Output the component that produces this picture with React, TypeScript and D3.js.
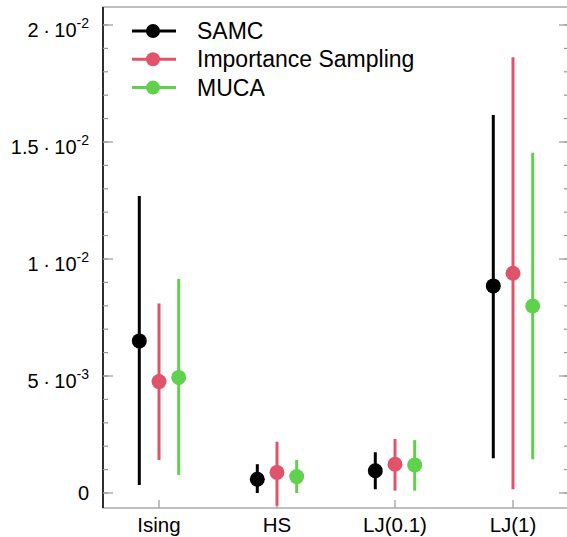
import React from "react";
import * as d3 from "d3";

const categories = ["Ising", "HS", "LJ(0.1)", "LJ(1)"];
const seriesNames = ["SAMC", "Importance Sampling", "MUCA"];
const seriesColors = ["#000000", "#DF536B", "#61D04F"];

// value, lower, upper per category
const samcMean = [0.0065, 0.00059, 0.00095, 0.00885];
const samcLow = [0.00034, 0.0, 0.00016, 0.00148];
const samcHigh = [0.01269, 0.00123, 0.00174, 0.01615];

const isMean = [0.00476, 0.00088, 0.00123, 0.00939];
const isLow = [0.00141, -0.00055, 0.0001, 0.00016];
const isHigh = [0.0081, 0.00219, 0.00231, 0.01862];

const mucaMean = [0.00494, 0.0007, 0.0012, 0.00799];
const mucaLow = [0.00077, 0.0, 0.0001, 0.00144];
const mucaHigh = [0.00915, 0.00141, 0.00226, 0.01454];

const yMajorTicks = [0, 0.005, 0.01, 0.015, 0.02];
const yTickMantissa = ["0", "5", "1", "1.5", "2"];
const yTickExponent = ["", "-3", "-2", "-2", "-2"];
const yMinorTicks = d3.range(0, 0.0205, 0.001);

const series = [
  { mean: samcMean, low: samcLow, high: samcHigh },
  { mean: isMean, low: isLow, high: isHigh },
  { mean: mucaMean, low: mucaLow, high: mucaHigh },
];

export default function App() {
  const W = 567;
  const H = 537;
  const left = 103;
  const right = 571;
  const top = 7;
  const bottom = 508;
  const y = d3.scaleLinear().domain([0, 0.02]).range([493, 25]);
  const x = d3.scalePoint<string>().domain(categories).range([159, 513]);
  const offset = 19.7;
  const font = "'Liberation Sans', Arial, Helvetica, sans-serif";
  const tickColor = "#999";
  const rTick = 569;

  return (
    <svg
      width={W}
      height={H}
      style={{ position: "absolute", left: 0, top: 0, background: "#fff" }}
      fontFamily={font}
    >
      <rect x={0} y={0} width={W} height={H} fill="#fff" />
      {/* box */}
      <rect x={left} y={top} width={right - left} height={bottom - top} fill="none" stroke="#aaa" strokeWidth={1.5} />
      <line x1={left} x2={left} y1={top} y2={bottom} stroke="#000" strokeWidth={1.5} />
      {/* minor ticks */}
      {yMinorTicks.map((t, i) => (
        <g key={"m" + i}>
          <line x1={left} x2={left + 5} y1={y(t)} y2={y(t)} stroke={tickColor} strokeWidth={1.2} />
          <line x1={rTick - 5} x2={rTick} y1={y(t)} y2={y(t)} stroke={tickColor} strokeWidth={1.2} />
        </g>
      ))}
      {yMajorTicks.map((t, i) => (
        <g key={"M" + i}>
          <line x1={left} x2={left + 10} y1={y(t)} y2={y(t)} stroke={tickColor} strokeWidth={1.2} />
          <line x1={rTick - 10} x2={rTick} y1={y(t)} y2={y(t)} stroke={tickColor} strokeWidth={1.2} />
          <text
            x={89}
            y={y(t) + (yTickExponent[i] === "" ? 7 : 11.5)}
            textAnchor="end"
            fontSize={20}
            fill="#000"
          >
            {yTickExponent[i] === "" ? (
              yTickMantissa[i]
            ) : (
              <>
                {yTickMantissa[i]}
                <tspan dx={4.5}>·</tspan>
                <tspan dx={4.5}>10</tspan>
                <tspan dy={-9} fontSize={14}>{yTickExponent[i]}</tspan>
              </>
            )}
          </text>
        </g>
      ))}
      {/* x ticks */}
      {categories.map((c) => (
        <g key={c}>
          <line x1={x(c)} x2={x(c)} y1={bottom} y2={bottom - 8} stroke={tickColor} strokeWidth={1.2} />
          <text x={x(c)} y={532} textAnchor="middle" fontSize={20.5} fill="#000">
            {c}
          </text>
        </g>
      ))}
      {/* error bars */}
      {series.map((s, si) =>
        categories.map((c, ci) => {
          const cx = (x(c) as number) + (si - 1) * offset;
          return (
            <g key={si + "-" + ci}>
              <line
                x1={cx}
                x2={cx}
                y1={y(s.low[ci])}
                y2={y(s.high[ci])}
                stroke={seriesColors[si]}
                strokeWidth={3}
              />
              <circle cx={cx} cy={y(s.mean[ci])} r={7.5} fill={seriesColors[si]} />
            </g>
          );
        })
      )}
      {/* legend */}
      {seriesNames.map((n, i) => {
        const ly = 31 + i * 28.3;
        return (
          <g key={n}>
            <line x1={132} x2={176} y1={ly} y2={ly} stroke={seriesColors[i]} strokeWidth={3} />
            <circle cx={153} cy={ly} r={7} fill={seriesColors[i]} />
            <text x={197} y={ly + 8} fontSize={23} fill="#000">
              {n}
            </text>
          </g>
        );
      })}
    </svg>
  );
}
